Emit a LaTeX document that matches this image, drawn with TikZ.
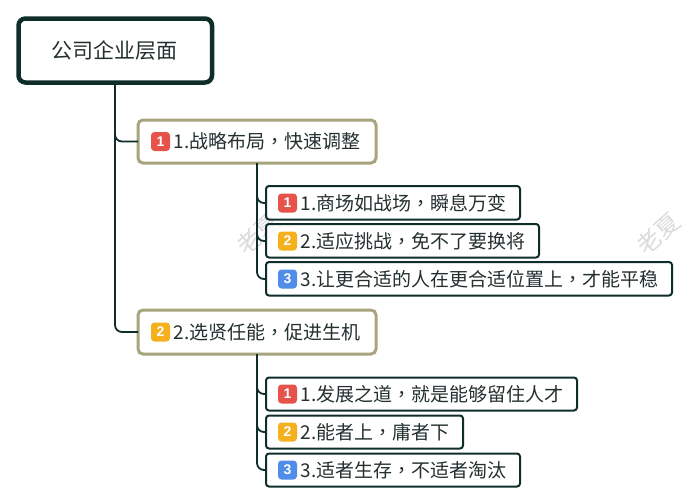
\documentclass[tikz,border=0pt]{standalone}
\usepackage{fontspec}
\setmainfont{Noto Sans CJK SC}[Scale=1]
\newfontfamily\tcfont{Noto Sans CJK TC}
\newfontfamily\latfont{Liberation Sans}
\newcommand{\cm}{{\tcfont ，}}
\definecolor{dk}{HTML}{0F2E2A}
\definecolor{olive}{HTML}{A8A47E}
\definecolor{txt}{HTML}{243030}
\definecolor{pr1}{HTML}{E5534B}
\definecolor{pr2}{HTML}{F5B01E}
\definecolor{pr3}{HTML}{4F8DE8}
\tikzset{
  x=1pt,y=-1pt,
  conn/.style={draw=dk,line width=1.8pt,rounded corners=7pt},
  rootbox/.style={draw=dk,line width=4.5pt,rounded corners=7pt,fill=white},
  topicbox/.style={draw=olive,line width=3pt,rounded corners=5pt,fill=white},
  subbox/.style={draw=dk,line width=2pt,rounded corners=3pt,fill=white},
  lbl/.style={anchor=west,inner sep=0pt,text=txt,font=\fontsize{19}{21}\selectfont},
  badge/.style={fill=#1,rounded corners=3.5pt,minimum size=19pt,inner sep=0pt,text=white,font=\latfont\bfseries\fontsize{14}{14}\selectfont},
  wm/.style={text=black!14,rotate=42,font=\fontsize{24}{26}\selectfont,inner sep=0pt,anchor=west}
}
\begin{document}
\begin{tikzpicture}
\useasboundingbox (0,0) rectangle (689,504);
\fill[white] (0,0) rectangle (689,504);
% watermarks
\node[wm] (w1) at (240,250) {老夏};
\node[wm] (w2) at (640,250) {老夏};
% root
\path[rootbox] (18.5,18.5) rectangle (212,82.5);
\node[inner sep=0pt,text=txt,font=\fontsize{21}{23}\selectfont] (root) at (115,51) {公司企业层面};
\coordinate (rootb) at (115,83);
% topics
\path[topicbox] (138,120) rectangle (376,163);
\coordinate (t1) at (138,141.5);
\coordinate (t1b) at (257,163);
\node[badge=pr1] (b1) at (160.5,141.5) {1};
\node[lbl] (l1) at (173.5,141.5) {1.战略布局\cm 快速调整};
\path[topicbox] (138,310) rectangle (376,354);
\coordinate (t2) at (138,332);
\coordinate (t2b) at (257,354);
\node[badge=pr2] (b2) at (160.5,332) {2};
\node[lbl] (l2) at (173.5,332) {2.选贤任能\cm 促进生机};
% subs 1
\path[subbox,fill opacity=0.8] (266,186) rectangle (520,219.5);
\coordinate (s1) at (266,203);
\node[badge=pr1] (b11) at (287.5,203) {1};
\node[lbl] (l11) at (300.5,203) {1.商场如战场\cm 瞬息万变};
\path[subbox,fill opacity=0.8] (266,224) rectangle (539,257.5);
\coordinate (s2) at (266,241);
\node[badge=pr2] (b12) at (287.5,241) {2};
\node[lbl] (l12) at (300.5,241) {2.适应挑战\cm 免不了要换将};
\path[subbox] (266,262) rectangle (672,295.5);
\coordinate (s3) at (266,279);
\node[badge=pr3] (b13) at (287.5,279) {3};
\node[lbl] (l13) at (300.5,279) {3.让更合适的人在更合适位置上\cm 才能平稳};
% subs 2
\path[subbox] (266,377.5) rectangle (577,410.5);
\coordinate (s4) at (266,394);
\node[badge=pr1] (b21) at (287.5,394) {1};
\node[lbl] (l21) at (300.5,394) {1.发展之道\cm 就是能够留住人才};
\path[subbox] (266,415.5) rectangle (463,448.5);
\coordinate (s5) at (266,432);
\node[badge=pr2] (b22) at (287.5,432) {2};
\node[lbl] (l22) at (300.5,432) {2.能者上\cm 庸者下};
\path[subbox] (266,453.5) rectangle (520,486.5);
\coordinate (s6) at (266,470);
\node[badge=pr3] (b23) at (287.5,470) {3};
\node[lbl] (l23) at (300.5,470) {3.适者生存\cm 不适者淘汰};
% connectors
\draw[conn] (rootb) |- (t1);
\draw[conn] (rootb) |- (t2);
\draw[conn] (t1b) |- (s1);
\draw[conn] (t1b) |- (s2);
\draw[conn] (t1b) |- (s3);
\draw[conn] (t2b) |- (s4);
\draw[conn] (t2b) |- (s5);
\draw[conn] (t2b) |- (s6);
\end{tikzpicture}
\end{document}
